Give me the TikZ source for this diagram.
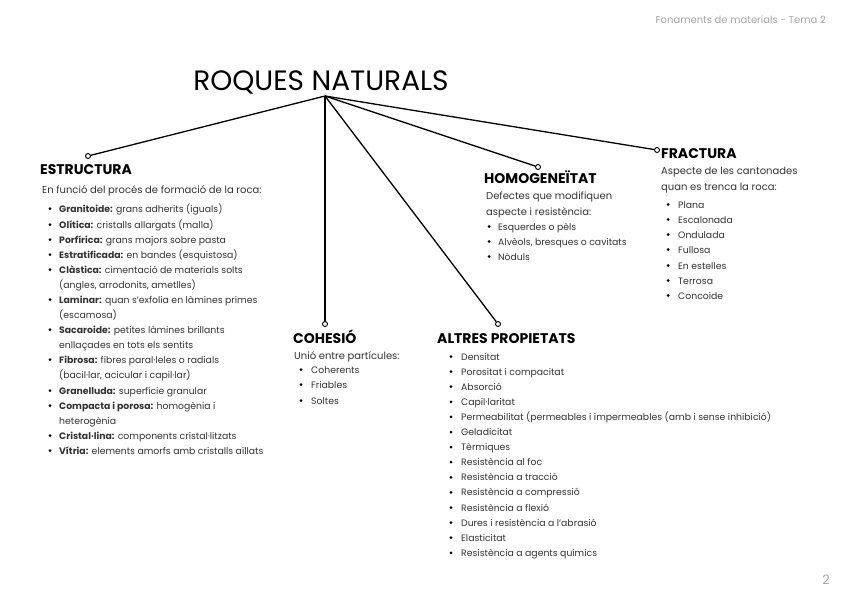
\documentclass[tikz,border=0pt]{standalone}
\usepackage{fontspec}
\setmainfont{Poppins}
\usetikzlibrary{positioning}

\begin{document}
\begin{tikzpicture}[x=1pt,y=-1pt,
    title/.style={font=\fontsize{28}{32}\selectfont,anchor=base,inner sep=0pt},
    head/.style={font=\fontsize{14}{16}\selectfont\bfseries,anchor=base west,inner sep=0pt},
    desc/.style={font=\fontsize{10}{16}\selectfont,text=black!80,anchor=base west,
                 inner sep=0pt,align=left},
    itemtxt/.style={font=\fontsize{9.3}{15.2}\selectfont,text=black!80,anchor=base west,
                    inner sep=0pt,align=left},
    dot/.style={circle,fill=black,inner sep=0pt,minimum size=3pt},
    knob/.style={circle,draw,fill=white,inner sep=0pt,minimum size=5pt,line width=0.9pt},
    branch/.style={line width=1.3pt},
    pageinfo/.style={text=gray!70,inner sep=0pt},
]

% ---- page frame ----------------------------------------------------------
\useasboundingbox (0,0) rectangle (848,600);
\node[pageinfo,font=\fontsize{10}{12}\selectfont,anchor=east] (header) at (826,20)
    {Fonaments de materials - Tema 2};
\node[pageinfo,font=\fontsize{13}{15}\selectfont] (pagenum) at (826,580) {2};

% ---- Title and branches --------------------------------------------------
\node[title] (roques) at (321,90) {ROQUES NATURALS};
\coordinate (hub) at (325,96);

\node[knob] (kEstr) at (88,156)  {};
\node[knob] (kCoh)  at (325,324) {};
\node[knob] (kAlt)  at (498,324) {};
\node[knob] (kHom)  at (538,167) {};
\node[knob] (kFra)  at (657,150) {};
\foreach \k in {kEstr,kCoh,kAlt,kHom,kFra}
{
    \draw[branch] (hub) -- (\k);
}

% ---- ESTRUCTURA ----------------------------------------------------------
% \l = extra lines (base anchor sits on the last line)
\node[head] (estr) at (40,174) {ESTRUCTURA};
\node[desc] (estrDesc) at (42,193) {En funció del procés de formació de la roca:};
\foreach \y/\l/\b/\t [count=\i] in {
    212/0/{Granitoide:}/{grans adherits (iguals)},
    228/0/{Olítica:}/{cristalls allargats (malla)},
    243/0/{Porfírica:}/{grans majors sobre pasta},
    258/0/{Estratificada:}/{en bandes (esquistosa)},
    273/1/{Clàstica:}/{cimentació de materials solts\\(angles, arrodonits, ametlles)},
    303/1/{Laminar:}/{quan s'exfolia en làmines primes\\(escamosa)},
    333/1/{Sacaroide:}/{petites làmines brillants\\enllaçades en tots els sentits},
    363/1/{Fibrosa:}/{fibres paral·leles o radials\\(bacil·lar, acicular i capil·lar)},
    394/0/{Granelluda:}/{superfície granular},
    409/1/{Compacta i porosa:}/{homogènia i\\heterogènia},
    439/0/{Cristal·lina:}/{components cristal·litzats},
    454/0/{Vítria:}/{elements amorfs amb cristalls aïllats}}
{
    \node[dot] (estrDot\i) at (50,\y-3.5) {};
    \node[itemtxt] (estrItem\i) at (59,\y+15.2*\l) {\textbf{\b} \t};
}

% ---- COHESIÓ -------------------------------------------------------------
\node[head] (coh) at (293,343) {COHESIÓ};
\node[desc] (cohDesc) at (294,359) {Unió entre partícules:};
\foreach \y/\t [count=\i] in {373/Coherents, 388/Friables, 404/Soltes}
{
    \node[dot] (cohDot\i) at (301,\y-3.5) {};
    \node[itemtxt] (cohItem\i) at (311,\y) {\t};
}

% ---- HOMOGENEÏTAT --------------------------------------------------------
\node[head] (hom) at (484,183) {HOMOGENEÏTAT};
\node[desc] (homDesc) at (486,215) {Defectes que modifiquen\\aspecte i resistència:};
\foreach \y/\t [count=\i] in {230/{Esquerdes o pèls}, 245/{Alvèols, bresques o cavitats},
                              260/{Nòduls}}
{
    \node[dot] (homDot\i) at (489,\y-3.5) {};
    \node[itemtxt] (homItem\i) at (498,\y) {\t};
}

% ---- FRACTURA ------------------------------------------------------------
\node[head] (fra) at (661,158) {FRACTURA};
\node[desc] (fraDesc) at (661,190) {Aspecte de les cantonades\\quan es trenca la roca:};
\foreach \y/\t [count=\i] in {208/Plana, 223/Escalonada, 238/Ondulada, 253/Fullosa,
                              269/En estelles, 284/Terrosa, 299/Concoide}
{
    \node[dot] (fraDot\i) at (668,\y-3.5) {};
    \node[itemtxt] (fraItem\i) at (678,\y) {\t};
}

% ---- ALTRES PROPIETATS ---------------------------------------------------
\node[head] (alt) at (437,343) {ALTRES PROPIETATS};
\foreach \t [count=\i] in {Densitat, Porositat i compacitat, Absorció, Capil·laritat,
    Permeabilitat (permeables i impermeables (amb i sense inhibició),
    Geladicitat, Tèrmiques, Resistència al foc, Resistència a tracció,
    Resistència a compressió, Resistència a flexió, Dures i resistència a l'abrasió,
    Elasticitat, Resistència a agents químics}
{
    \node[dot] (altDot\i) at (451,360+15.1*\i-15.1-3.5) {};
    \node[itemtxt] (altItem\i) at (461,360+15.1*\i-15.1) {\t};
}

\end{tikzpicture}
\end{document}
